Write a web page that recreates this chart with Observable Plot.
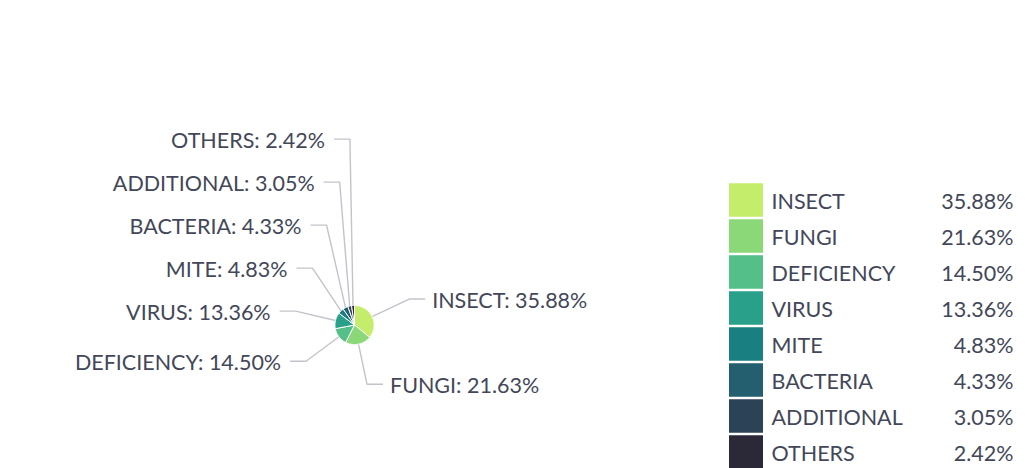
<!DOCTYPE html>
<html><head><meta charset="utf-8">
<script src="https://cdn.jsdelivr.net/npm/d3@7"></script>
<script src="https://cdn.jsdelivr.net/npm/@observablehq/plot@0.6"></script>
<style>html,body{margin:0;padding:0;background:#fff;}#chart svg{display:block;}</style>
</head><body><div id="chart"></div>
<script>
// ---- data ----
const categories = ["INSECT","FUNGI","DEFICIENCY","VIRUS","MITE","BACTERIA","ADDITIONAL","OTHERS"];
const shares = [35.88, 21.63, 14.50, 13.36, 4.83, 4.33, 3.05, 2.42];
const colors = ["#c4ed6b","#8bd879","#54bf88","#28a08a","#1a7f80","#245f6f","#2c4256","#2b2838"];

// ---- layout ----
const W = 1025, H = 468;
const cx = 354, cy = 324.5, r = 19.5;
const elbowR = 60.5, len2 = 16, labelGap = 43;
const textGapR = 7, textGapL = 9;
const legend = {x0: 729, x1: 763, y0: 200, pitch: 36, sw: 33.5, textX: 771, valX: 1013};
const textColor = "#434759", lineColor = "#c3c4cb";
const font = "Lato, 'Noto Sans', sans-serif";
const fs = 21.5, tdy = 2;

const total = d3.sum(shares);
let cum = 0;
const slices = categories.map((cat, i) => {
  const a0 = cum / total * 2 * Math.PI;
  cum += shares[i];
  const a1 = cum / total * 2 * Math.PI;
  return {cat, share: shares[i], a0, a1, mid: (a0 + a1) / 2};
});

// slice polygons
const slicePts = [];
for (const s of slices) {
  slicePts.push({cat: s.cat, x: cx, y: cy});
  const n = Math.max(2, Math.ceil((s.a1 - s.a0) / (Math.PI / 180)));
  for (let k = 0; k <= n; k++) {
    const a = s.a0 + (s.a1 - s.a0) * k / n;
    slicePts.push({cat: s.cat, x: cx + r * Math.sin(a), y: cy - r * Math.cos(a)});
  }
  slicePts.push({cat: s.cat, x: cx, y: cy});
}

// label layout (natural elbow, then shift labels upward to avoid overlap)
const labels = slices.map(s => ({
  ...s,
  side: Math.sin(s.mid) >= 0 ? 1 : -1,
  ex: cx + elbowR * Math.sin(s.mid),
  ny: cy - elbowR * Math.cos(s.mid),
  sx: cx + r * Math.sin(s.mid),
  sy: cy - r * Math.cos(s.mid)
}));
for (const side of [1, -1]) {
  const group = labels.filter(l => l.side === side).sort((a, b) => b.ny - a.ny);
  group.forEach((l, i) => {
    l.ey = i === 0 ? l.ny : Math.min(l.ny, group[i - 1].ey - labelGap);
  });
}
const leaderPts = [];
for (const l of labels) {
  leaderPts.push({cat: l.cat, x: l.sx, y: l.sy});
  leaderPts.push({cat: l.cat, x: l.ex, y: l.ey});
  leaderPts.push({cat: l.cat, x: l.ex + l.side * len2, y: l.ey});
}
const labelRows = labels.map(l => ({
  x: l.ex + l.side * (len2 + (l.side > 0 ? textGapR : textGapL)), y: l.ey,
  anchor: l.side > 0 ? "start" : "end",
  text: `${l.cat}: ${l.share.toFixed(2)}%`
}));

const legendRows = categories.map((cat, i) => ({
  cat, val: shares[i].toFixed(2) + "%",
  y: legend.y0 + legend.pitch * i
}));

const chart = Plot.plot({
  width: W, height: H,
  margin: 0,
  x: {domain: [0, W], range: [0, W], axis: null},
  y: {domain: [0, H], range: [0, H], axis: null},
  color: {domain: categories, range: colors},
  style: {fontFamily: font, background: "#fff"},
  marks: [
    Plot.line(leaderPts, {x: "x", y: "y", z: "cat", stroke: lineColor, strokeWidth: 1.4, strokeLinecap: "butt", strokeLinejoin: "miter"}),
    Plot.line(slicePts, {x: "x", y: "y", z: "cat", fill: "cat", stroke: "#fff", strokeWidth: 1, curve: "linear"}),
    Plot.text(labelRows.filter(d => d.anchor === "start"), {x: "x", y: "y", text: "text", textAnchor: "start", fontSize: fs, dy: tdy, fill: textColor}),
    Plot.text(labelRows.filter(d => d.anchor === "end"), {x: "x", y: "y", text: "text", textAnchor: "end", fontSize: fs, dy: tdy, fill: textColor}),
    Plot.rect(legendRows, {x1: () => legend.x0, x2: () => legend.x1, y1: d => d.y - legend.sw / 2, y2: d => d.y + legend.sw / 2, fill: "cat"}),
    Plot.text(legendRows, {x: () => legend.textX, y: "y", text: "cat", textAnchor: "start", fontSize: fs, dy: tdy, fill: textColor}),
    Plot.text(legendRows, {x: () => legend.valX, y: "y", text: "val", textAnchor: "end", fontSize: fs, dy: tdy, fill: textColor})
  ]
});
document.getElementById("chart").appendChild(chart);
</script>
</body></html>
